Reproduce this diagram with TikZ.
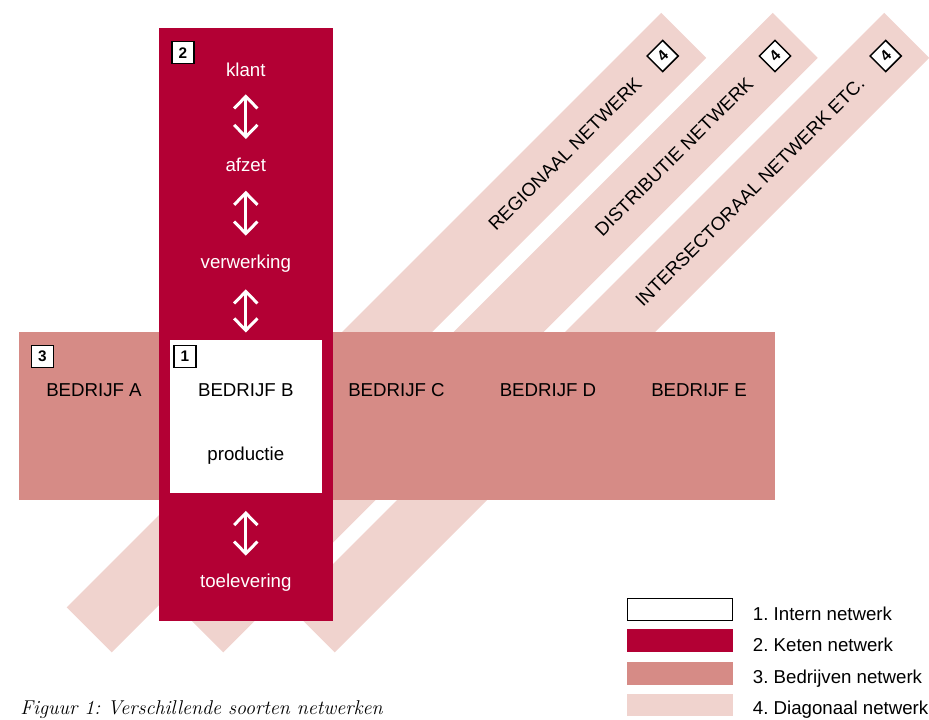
\documentclass[tikz,border=0pt]{standalone}
\usepackage{fontspec}
\newfontfamily\lsans{Liberation Sans}
\usetikzlibrary{arrows.meta}
\definecolor{keten}{RGB}{179,0,52}
\definecolor{bedrijf}{RGB}{214,139,134}
\definecolor{diag}{RGB}{240,211,206}
\begin{document}
\frenchspacing
\begin{tikzpicture}[x=0.75pt,y=-0.75pt,
  lbl/.style={font=\lsans\fontsize{14pt}{16pt}\selectfont, inner sep=0pt, anchor=base},
  wlbl/.style={lbl, text=white},
  badge/.style={draw=black, line width=1.1pt, fill=white, minimum size=16.5pt, inner sep=0pt,
    font=\lsans\bfseries\fontsize{11.5pt}{12pt}\selectfont},
  legbox/.style={minimum width=79pt, minimum height=17pt, inner sep=0pt},
  dblarrow/.style={draw=white, line width=2.25pt,
    {Straight Barb[length=9pt,width=17.5pt]}-{Straight Barb[length=9pt,width=17.5pt]}}]
\useasboundingbox (0,0) rectangle (929,720);
\clip (0,0) rectangle (929,720);
% diagonal bands
\foreach \dx in {0,111.5,223}{
  \fill[diag, shift={(\dx,0)}] (66.7,607.3) -- (111.7,652.3) -- (706.2,57.8) -- (661.2,12.8) -- cycle;
}
\node[lbl, rotate=45, anchor=east] (regio) at (638.5,80.5) {REGIONAAL NETWERK};
\node[lbl, rotate=45, anchor=east] (distr) at (750,80.5) {DISTRIBUTIE NETWERK};
\node[lbl, rotate=45, anchor=east] (inter) at (861.5,80.5) {INTERSECTORAAL NETWERK ETC.};
\node[badge, rotate=45] (d1) at (662.7,56) {4};
\node[badge, rotate=45] (d2) at (775,56) {4};
\node[badge, rotate=45] (d3) at (885.7,56) {4};
% bedrijven band
\fill[bedrijf] (19,332) rectangle (775,499.5);
% keten band
\fill[keten] (159,28) rectangle (332.7,620.5);
% intern box
\node[fill=white, minimum width=113.8pt, minimum height=114.4pt, inner sep=0pt] (boxB) at (245.8,416.4) {};
% badges
\node[badge] (b2) at (183,52.7) {2};
\node[badge] (b3) at (42.5,356.3) {3};
\node[badge] (b1) at (185,356.3) {1};
% chain labels
\node[wlbl] (klant) at (245.8,76.7) {klant};
\node[wlbl] (afzet) at (245.8,171.7) {afzet};
\node[wlbl] (verw) at (245.8,268.3) {verwerking};
\node[wlbl] (toel) at (245.8,587.7) {toelevering};
\node[lbl] (bB) at (245.8,396.7) {BEDRIJF B};
\node[lbl] (prod) at (245.8,460.5) {productie};
\node[lbl] (bA) at (94,396.7) {BEDRIJF A};
\node[lbl] (bC) at (396.5,396.7) {BEDRIJF C};
\node[lbl] (bD) at (548,396.7) {BEDRIJF D};
\node[lbl] (bE) at (699,396.7) {BEDRIJF E};
% arrows
\draw[dblarrow, shorten <=13.2pt, shorten >=24.5pt] (klant.base) -- (afzet.base);
\draw[dblarrow, shorten <=14.25pt, shorten >=24.45pt] (afzet.base) -- (verw.base);
\draw[dblarrow, shorten <=15.75pt, shorten >=5.5pt] (verw.base) -- (boxB.north);
\draw[dblarrow, shorten <=13.5pt, shorten >=24pt] (boxB.south) -- (toel.base);
% legend
\node[legbox, fill=white, draw=black, line width=0.8pt] (l1) at (680,609.5) {};
\node[legbox, fill=keten] (l2) at (680,640.8) {};
\node[legbox, fill=bedrijf] (l3) at (680,673.6) {};
\node[legbox, fill=diag] (l4) at (680,705) {};
\node[lbl, anchor=base west] (t1) at (752.7,620.3) {1. Intern netwerk};
\node[lbl, anchor=base west] (t2) at (752.7,651.8) {2. Keten netwerk};
\node[lbl, anchor=base west] (t3) at (752.7,683.3) {3. Bedrijven netwerk};
\node[lbl, anchor=base west] (t4) at (752.7,714.8) {4. Diagonaal netwerk};
% caption
\node[anchor=base west, inner sep=0pt, font=\itshape\fontsize{15pt}{18pt}\selectfont] (cap) at (20,714) {Figuur 1: Verschillende soorten netwerken};
\end{tikzpicture}
\end{document}
